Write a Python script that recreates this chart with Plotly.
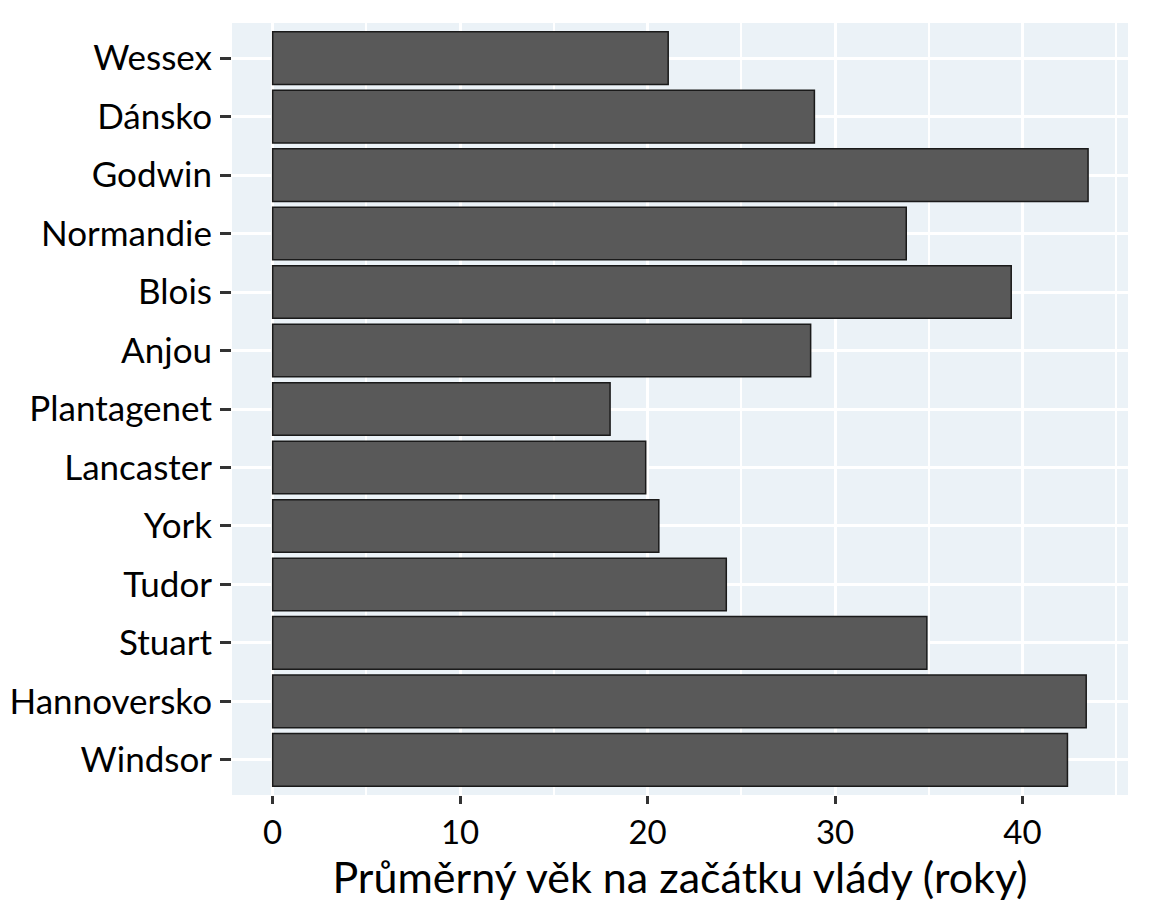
import plotly.graph_objects as go

categories = ["Wessex", "Dánsko", "Godwin", "Normandie", "Blois", "Anjou",
              "Plantagenet", "Lancaster", "York", "Tudor", "Stuart",
              "Hannoversko", "Windsor"]
values = [21.1, 28.9, 43.5, 33.8, 39.4, 28.7, 18.0, 19.9, 20.6, 24.2, 34.9, 43.4, 42.4]
x_ticks = [0, 10, 20, 30, 40]
x_title = "Průměrný věk na začátku vlády (roky)"

fig = go.Figure(go.Bar(
    y=categories, x=values, orientation="h", width=0.9,
    marker=dict(color="#595959", line=dict(color="#1a1a1a", width=1.5)),
))

fig.update_layout(
    width=1136, height=906,
    margin=dict(l=224, r=16, t=15, b=119),
    paper_bgcolor="white", plot_bgcolor="#EBF2F7",
    font=dict(family="Lato", color="black", size=35),
    showlegend=False, bargap=0.1,
)
fig.update_xaxes(
    range=[-2.17, 45.63], tickvals=x_ticks, ticks="outside", ticklen=8,
    tickwidth=3, tickcolor="#333333", showgrid=True, gridcolor="white",
    gridwidth=3, minor=dict(dtick=5, tick0=5, showgrid=True, gridcolor="white", gridwidth=1.5),
    zeroline=False, showline=False, tickfont=dict(size=33), automargin=False,
    title=dict(text=x_title, font=dict(size=43), standoff=6),
)
fig.update_yaxes(
    categoryorder="array", categoryarray=categories, autorange=False,
    range=[12.6, -0.6], ticks="outside", ticklen=11, tickwidth=3,
    tickcolor="#333333", showgrid=True, gridcolor="white", gridwidth=3,
    zeroline=False, showline=False, tickfont=dict(size=35),
    automargin=False, ticklabelstandoff=1,
)
fig.write_html("out.html")
